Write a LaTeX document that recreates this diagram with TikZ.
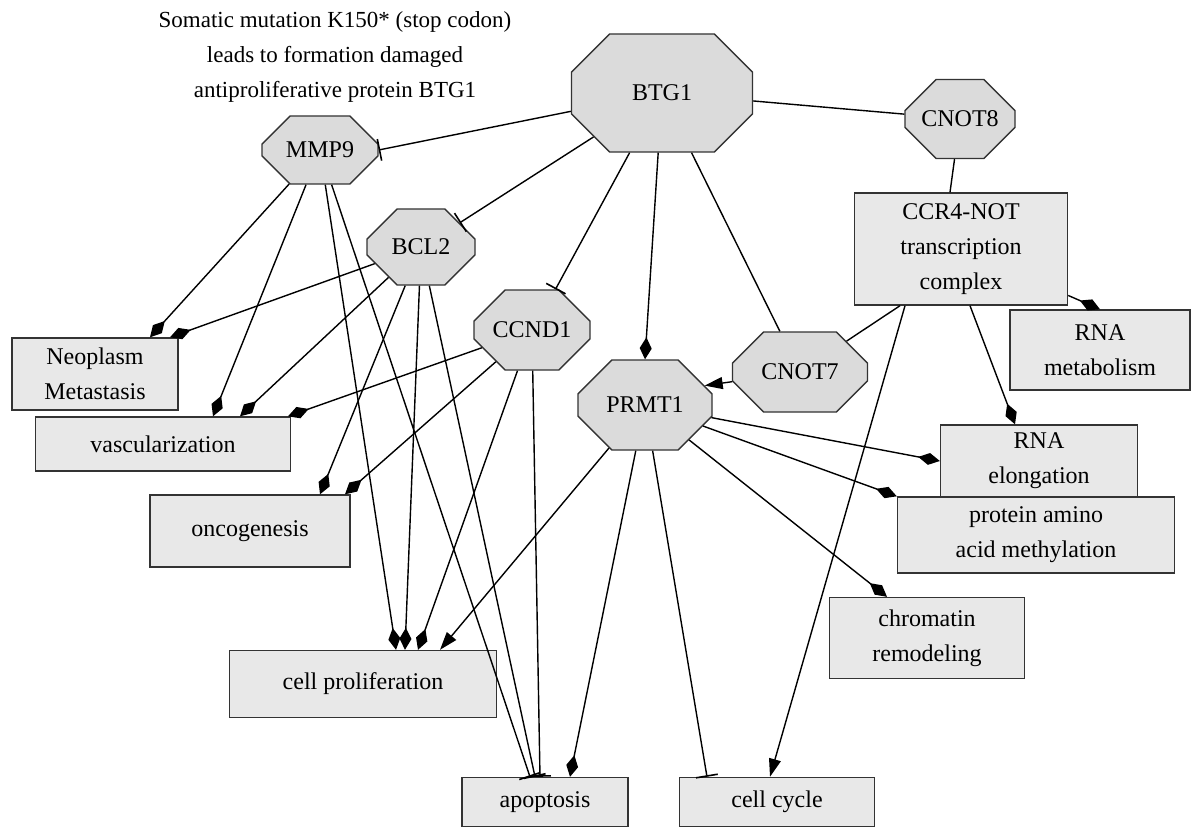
\documentclass[tikz,border=0pt]{standalone}
\usepackage{fontspec}
\setmainfont{Liberation Serif}
\usetikzlibrary{shapes.misc, arrows.meta, positioning}

\definecolor{octfill}{gray}{0.86}
\definecolor{boxfill}{gray}{0.91}
\definecolor{rim}{gray}{0.2}

\begin{document}
\begin{tikzpicture}[x=1pt, y=-1pt, every node/.style={font=\fontsize{24}{35}\selectfont},
    oct/.style n args={4}{chamfered rectangle, draw=rim, fill=octfill, line width=1.4pt, inner sep=0pt,
        minimum width=#1pt, minimum height=#2pt, chamfered rectangle xsep=#3pt, chamfered rectangle ysep=#4pt},
    term/.style n args={2}{rectangle, draw=rim, fill=boxfill, line width=1.4pt, align=center,
        minimum width=#1pt, minimum height=#2pt},
    link/.style={line width=1.4pt},
    act/.style={link, -{Diamond[length=22pt, width=12pt]}},
    inh/.style={link, -{Bar[width=22pt, line width=1.6pt]}},
    ind/.style={link, -{Triangle[length=18pt, width=12pt]}}]

    \useasboundingbox (0,0) rectangle (1202,829);

    % Note on the mutation
    \node[align=center, font=\fontsize{23}{35}\selectfont] (note) at (335,57) {Somatic mutation K150* (stop codon)\\leads to formation damaged\\antiproliferative protein BTG1};

    % Genes
    \node[oct={181}{118}{54}{34}] (BTG1) at (662,93) {BTG1};
    \node[oct={110}{79}{32}{23}] (CNOT8) at (960,119) {CNOT8};
    \node[oct={116}{68}{34}{20}] (MMP9) at (320,150) {MMP9};
    \node[oct={108}{76}{31}{22}] (BCL2) at (421,247) {BCL2};
    \node[oct={116}{80}{34}{23}] (CCND1) at (532,330) {CCND1};
    \node[oct={135}{80}{39}{23}] (CNOT7) at (800,372) {CNOT7};
    \node[oct={134}{90}{39}{26}] (PRMT1) at (645,405) {PRMT1};

    % Processes
    \node[term={213}{112}] (CCR4) at (961,249) {CCR4-NOT\\transcription\\complex};
    \node[term={166}{72}] (neo) at (95,374) {Neoplasm\\Metastasis};
    \node[term={255}{54}] (vasc) at (163,444) {vascularization};
    \node[term={180}{80}] (rnamet) at (1100,350) {RNA\\metabolism};
    \node[term={197}{72}] (rnael) at (1039,461) {RNA\\elongation};
    \node[term={200}{72}] (onco) at (250,531) {oncogenesis};
    \node[term={277}{76}] (prot) at (1036,535) {protein amino\\acid methylation};
    \node[term={267}{67}] (prolif) at (363,684) {cell proliferation};
    \node[term={195}{81}] (chrom) at (927,638) {chromatin\\remodeling};
    \node[term={166}{49}] (apop) at (545,802) {apoptosis};
    \node[term={195}{49}] (cycle) at (777,802) {cell cycle};

    % BTG1 links
    \draw[inh] (BTG1) -- (MMP9.east);
    \draw[inh] (BTG1) -- (BCL2.32);
    \draw[inh] (BTG1) -- (CCND1.60);
    \draw[act] (BTG1) -- (PRMT1.north);
    \draw[link] (BTG1) -- (CNOT7);
    \draw[link] (BTG1) -- (CNOT8);

    % CCR4-NOT complex
    \draw[link] (CNOT8) -- (CCR4.north -| 950,0);
    \draw[link] (CCR4.south -| 900,0) -- (CNOT7);
    \draw[ind] (CNOT7) -- (PRMT1.18);
    \draw[act] (CCR4) -- (rnamet.north);
    \draw[act] (CCR4.south -| 970,0) -- (rnael.north -| 1015,0);
    \draw[ind] (CCR4.south -| 905,0) -- (cycle.north -| 770,0);

    % MMP9 targets
    \draw[act] (MMP9) -- (neo.north -| 150,0);
    \draw[act] (MMP9) -- (vasc.north -| 213,0);
    \draw[act] (MMP9) -- (prolif.north -| 396,0);
    \draw[inh] (MMP9) -- (apop.north -| 530,0);

    % BCL2 targets
    \draw[act] (BCL2) -- (neo.north -| 170,0);
    \draw[act] (BCL2) -- (vasc.north -| 240,0);
    \draw[act] (BCL2) -- (onco.north -| 320,0);
    \draw[act] (BCL2) -- (prolif.north -| 405,0);
    \draw[inh] (BCL2) -- (apop.north -| 535,0);

    % CCND1 targets
    \draw[act] (CCND1) -- (vasc.north -| 288,0);
    \draw[act] (CCND1) -- (onco.north -| 345,0);
    \draw[act] (CCND1) -- (prolif.north -| 418,0);
    \draw[inh] (CCND1) -- (apop.north -| 540,0);

    % PRMT1 targets
    \draw[ind] (PRMT1) -- (prolif.north -| 440,0);
    \draw[act] (PRMT1) -- (apop.north -| 570,0);
    \draw[inh] (PRMT1) -- (cycle.north -| 707,0);
    \draw[act] (PRMT1) -- (chrom.north -| 887,0);
    \draw[act] (PRMT1) -- (prot.north west);
    \draw[act] (PRMT1) -- (rnael.west);
\end{tikzpicture}
\end{document}
